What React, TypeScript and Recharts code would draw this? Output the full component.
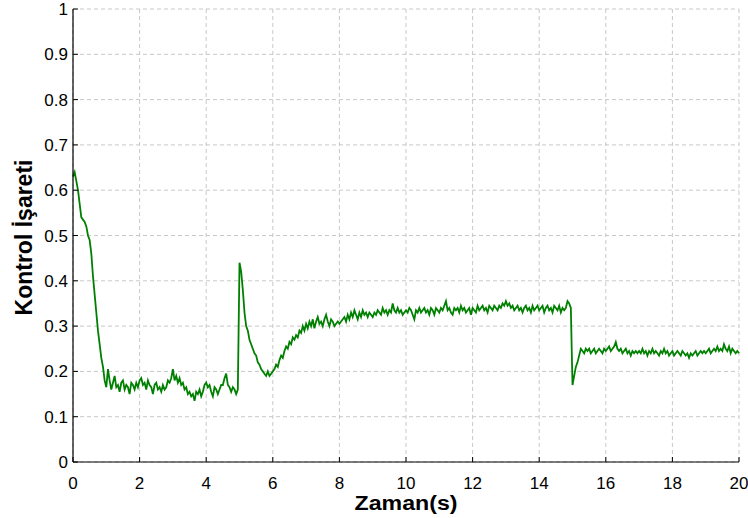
import React from 'react';
import { LineChart, Line, XAxis, YAxis, CartesianGrid } from 'recharts';

const STEP = 0.05;
const sec0 = [0.63, 0.64, 0.62, 0.60, 0.57, 0.54, 0.535, 0.53, 0.52, 0.50, 0.49, 0.46, 0.41, 0.37, 0.33, 0.29, 0.26, 0.23, 0.21, 0.18];
const sec1 = [0.165, 0.205, 0.18, 0.16, 0.175, 0.19, 0.165, 0.17, 0.155, 0.175, 0.18, 0.16, 0.17, 0.165, 0.15, 0.175, 0.17, 0.16, 0.175, 0.165];
const sec2 = [0.18, 0.185, 0.17, 0.175, 0.16, 0.18, 0.17, 0.165, 0.15, 0.17, 0.175, 0.16, 0.165, 0.155, 0.17, 0.16, 0.165, 0.18, 0.175, 0.185];
const sec3 = [0.205, 0.18, 0.19, 0.175, 0.185, 0.17, 0.175, 0.16, 0.165, 0.15, 0.155, 0.145, 0.15, 0.135, 0.155, 0.15, 0.16, 0.145, 0.155, 0.17];
const sec4 = [0.175, 0.165, 0.17, 0.155, 0.145, 0.165, 0.16, 0.15, 0.16, 0.17, 0.17, 0.185, 0.195, 0.17, 0.165, 0.155, 0.165, 0.16, 0.15, 0.16];
const sec5 = [0.44, 0.42, 0.38, 0.33, 0.30, 0.29, 0.27, 0.26, 0.25, 0.24, 0.235, 0.22, 0.215, 0.205, 0.20, 0.195, 0.19, 0.20, 0.19, 0.195];
const sec6 = [0.20, 0.205, 0.215, 0.21, 0.225, 0.235, 0.23, 0.245, 0.255, 0.25, 0.265, 0.26, 0.275, 0.27, 0.28, 0.275, 0.29, 0.285, 0.30, 0.29];
const sec7 = [0.305, 0.295, 0.31, 0.30, 0.315, 0.295, 0.31, 0.32, 0.305, 0.31, 0.30, 0.315, 0.325, 0.31, 0.30, 0.315, 0.31, 0.30, 0.305, 0.31];
const sec8 = [0.305, 0.31, 0.315, 0.32, 0.31, 0.325, 0.315, 0.33, 0.32, 0.335, 0.325, 0.315, 0.33, 0.32, 0.335, 0.325, 0.33, 0.32, 0.33, 0.325];
const sec9 = [0.32, 0.33, 0.325, 0.335, 0.33, 0.325, 0.34, 0.33, 0.335, 0.325, 0.335, 0.33, 0.35, 0.335, 0.33, 0.34, 0.33, 0.335, 0.325, 0.33];
const sec10 = [0.335, 0.33, 0.34, 0.335, 0.325, 0.315, 0.335, 0.33, 0.34, 0.33, 0.335, 0.34, 0.33, 0.335, 0.325, 0.34, 0.335, 0.325, 0.34, 0.335];
const sec11 = [0.33, 0.34, 0.335, 0.345, 0.355, 0.335, 0.34, 0.33, 0.325, 0.34, 0.335, 0.34, 0.33, 0.345, 0.335, 0.34, 0.33, 0.335, 0.34, 0.325];
const sec12 = [0.34, 0.335, 0.33, 0.345, 0.335, 0.34, 0.345, 0.335, 0.34, 0.33, 0.345, 0.34, 0.335, 0.345, 0.34, 0.335, 0.345, 0.34, 0.35, 0.345];
const sec13 = [0.355, 0.345, 0.35, 0.34, 0.345, 0.335, 0.34, 0.345, 0.335, 0.34, 0.33, 0.34, 0.345, 0.335, 0.34, 0.33, 0.345, 0.335, 0.34, 0.345];
const sec14 = [0.335, 0.34, 0.345, 0.33, 0.34, 0.345, 0.335, 0.34, 0.33, 0.345, 0.34, 0.335, 0.345, 0.33, 0.34, 0.335, 0.34, 0.355, 0.35, 0.34];
const sec15 = [0.17, 0.19, 0.21, 0.22, 0.235, 0.25, 0.245, 0.24, 0.25, 0.245, 0.25, 0.24, 0.245, 0.25, 0.24, 0.245, 0.25, 0.245, 0.24, 0.25];
const sec16 = [0.245, 0.25, 0.255, 0.245, 0.25, 0.255, 0.265, 0.25, 0.245, 0.25, 0.24, 0.245, 0.25, 0.24, 0.245, 0.235, 0.245, 0.24, 0.245, 0.24];
const sec17 = [0.245, 0.24, 0.25, 0.24, 0.245, 0.235, 0.245, 0.24, 0.25, 0.24, 0.245, 0.24, 0.235, 0.245, 0.24, 0.25, 0.24, 0.245, 0.235, 0.24];
const sec18 = [0.245, 0.235, 0.24, 0.245, 0.24, 0.235, 0.245, 0.24, 0.235, 0.24, 0.23, 0.24, 0.235, 0.24, 0.245, 0.235, 0.24, 0.245, 0.24, 0.245];
const sec19 = [0.24, 0.245, 0.25, 0.24, 0.245, 0.25, 0.245, 0.255, 0.245, 0.25, 0.245, 0.26, 0.25, 0.245, 0.255, 0.24, 0.25, 0.245, 0.24, 0.245, 0.24];

const values = [
  ...sec0, ...sec1, ...sec2, ...sec3, ...sec4, ...sec5, ...sec6, ...sec7, ...sec8, ...sec9,
  ...sec10, ...sec11, ...sec12, ...sec13, ...sec14, ...sec15, ...sec16, ...sec17, ...sec18, ...sec19,
];

const xTicks = [0, 2, 4, 6, 8, 10, 12, 14, 16, 18, 20];
const yTicks = [0, 0.1, 0.2, 0.3, 0.4, 0.5, 0.6, 0.7, 0.8, 0.9, 1];
const xTitle = 'Zaman(s)';
const yTitle = 'Kontrol İşareti';

const data = values.map((v, i) => ({ t: +(i * STEP).toFixed(2), v }));

const FONT = '"Liberation Sans", Arial, sans-serif';
const TICK_LEN = 5;

const BottomTick = (props: any) => {
  const { x, y, payload } = props;
  return (
    <g>
      <line x1={x} y1={y} x2={x} y2={y - TICK_LEN} stroke="#000" strokeWidth={1} />
      <text x={x} y={y + 27} textAnchor="middle" fontFamily={FONT} fontSize={17} fill="#000">
        {payload.value}
      </text>
    </g>
  );
};

const LeftTick = (props: any) => {
  const { x, y, payload } = props;
  return (
    <g>
      <line x1={x} y1={y} x2={x + TICK_LEN} y2={y} stroke="#000" strokeWidth={1} />
      <text x={x - 5} y={y + 6} textAnchor="end" fontFamily={FONT} fontSize={17} fill="#000">
        {payload.value}
      </text>
    </g>
  );
};

const TopTick = (props: any) => {
  const { x, y } = props;
  return <line x1={x} y1={y} x2={x} y2={y + TICK_LEN} stroke="#000" strokeWidth={1} />;
};

const RightTick = (props: any) => {
  const { x, y } = props;
  return <line x1={x} y1={y} x2={x - TICK_LEN} y2={y} stroke="#000" strokeWidth={1} />;
};

const XTitle = (props: any) => {
  const vb = props.viewBox;
  return (
    <text
      x={vb.x + vb.width / 2}
      y={vb.y + 48}
      textAnchor="middle"
      fontFamily={FONT}
      fontWeight="bold"
      fontSize={20}
      textLength={103}
      lengthAdjust="spacingAndGlyphs"
      fill="#000"
    >
      {xTitle}
    </text>
  );
};

const YTitle = (props: any) => {
  const vb = props.viewBox;
  const cx = vb.x + 32;
  const cy = vb.y + vb.height / 2 + 2;
  return (
    <text
      x={cx}
      y={cy}
      transform={`rotate(-90 ${cx} ${cy})`}
      textAnchor="middle"
      fontFamily={FONT}
      fontWeight="bold"
      fontSize={23}
      fill="#000"
    >
      {yTitle}
    </text>
  );
};

export default function App() {
  return (
    <div style={{ position: 'absolute', left: 0, top: 0, width: 748, height: 518, background: '#fff' }}>
      <LineChart width={748} height={518} data={data} margin={{ top: 9, right: 9, left: 0, bottom: 0 }}>
        <CartesianGrid stroke="#c8c8c8" strokeDasharray="4 3" xAxisId="bottom" yAxisId="left" />
        <XAxis
          xAxisId="bottom"
          dataKey="t"
          type="number"
          domain={[0, 20]}
          ticks={xTicks}
          interval={0}
          height={56}
          tickSize={0}
          tickMargin={0}
          tickLine={false}
          axisLine={{ stroke: '#000', strokeWidth: 1.2 }}
          tick={<BottomTick />}
          label={<XTitle />}
        />
        <XAxis
          xAxisId="top"
          orientation="top"
          dataKey="t"
          type="number"
          domain={[0, 20]}
          ticks={xTicks}
          interval={0}
          height={0}
          tickSize={0}
          tickMargin={0}
          tickLine={false}
          axisLine={{ stroke: '#000', strokeWidth: 1.2 }}
          tick={<TopTick />}
        />
        <YAxis
          yAxisId="left"
          type="number"
          domain={[0, 1]}
          ticks={yTicks}
          interval={0}
          width={73}
          tickSize={0}
          tickMargin={0}
          tickLine={false}
          axisLine={{ stroke: '#000', strokeWidth: 1.2 }}
          tick={<LeftTick />}
          label={<YTitle />}
        />
        <YAxis
          yAxisId="right"
          orientation="right"
          type="number"
          domain={[0, 1]}
          ticks={yTicks}
          interval={0}
          width={0}
          tickSize={0}
          tickMargin={0}
          tickLine={false}
          axisLine={{ stroke: '#000', strokeWidth: 1.2 }}
          tick={<RightTick />}
        />
        <Line
          xAxisId="bottom"
          yAxisId="left"
          type="linear"
          dataKey="v"
          stroke="#008000"
          strokeWidth={1.8}
          dot={false}
          isAnimationActive={false}
        />
      </LineChart>
    </div>
  );
}
